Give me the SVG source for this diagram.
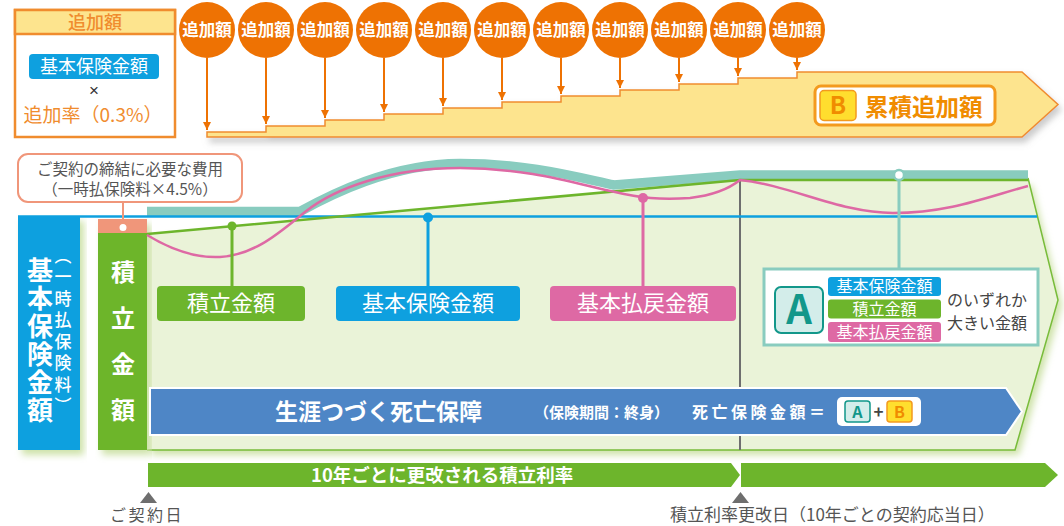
<svg xmlns="http://www.w3.org/2000/svg" width="1064" height="526" viewBox="0 0 1064 526">
<defs>
<style>
text{font-family:"Noto Sans CJK JP","Noto Sans",sans-serif}
.b{font-weight:700}
.w{fill:#fff}
.or{fill:#F08C2E}
.gy{fill:#555}
.circ{fill:#EE7203}
.ctx{fill:#fff;font-size:16.5px;font-weight:700;text-anchor:middle}
.arr{stroke:#EE7203;stroke-width:2;fill:none}
.lbl{font-size:22px;fill:#fff;text-anchor:middle}
.sm{font-size:16px;fill:#fff;text-anchor:middle}
</style>
<marker id="ah" viewBox="0 0 8 8" refX="8" refY="4" markerWidth="8" markerHeight="8" markerUnits="userSpaceOnUse" orient="auto">
<path d="M0,0 L8,4 L0,8 Z" fill="#EE7203"/>
</marker>
<filter id="sh" x="-5%" y="-5%" width="115%" height="125%">
<feDropShadow dx="4" dy="5" stdDeviation="3.5" flood-color="#C9DFA0" flood-opacity="0.9"/>
</filter>
<filter id="gs" x="-5%" y="-20%" width="110%" height="160%">
<feDropShadow dx="3" dy="5" stdDeviation="3" flood-color="#999" flood-opacity="0.5"/>
</filter>
</defs>
<rect width="1064" height="526" fill="#fff"/>

<!-- top left formula box -->
<g id="formula">
<rect x="15" y="10" width="160" height="127" fill="#fff" stroke="#F08C2E" stroke-width="2.5"/>
<rect x="15" y="10" width="160" height="24" fill="#FDE48E" stroke="#F08C2E" stroke-width="2.5"/>
<text x="95" y="29" font-size="18" class="or" text-anchor="middle" font-weight="500">追加額</text>
<rect x="29" y="54" width="130" height="25" rx="4" fill="#0EA0DF"/>
<text x="94" y="73" font-size="18" class="w" text-anchor="middle">基本保険金額</text>
<text x="94" y="96" font-size="17" fill="#333" text-anchor="middle" style="font-family:'Liberation Sans',sans-serif">×</text>
<text x="93" y="122" font-size="19" class="or" text-anchor="middle">追加率（0.3%）</text>
</g>

<!-- staircase -->
<g id="cumulative">
<path d="M207,137 V132 H266 V126 H325 V120 H384 V114 H443 V108 H502 V102 H561 V96 H620 V90 H679 V84 H738 V78 H797 V72 H1022 L1058,104.5 L1022,137 Z" fill="#FDE48E" stroke="#F08C2E" stroke-width="1.5" filter="url(#gs)"/>
<rect x="815" y="86" width="180" height="39" rx="6" fill="#fff" stroke="#F39A1E" stroke-width="3"/>
<rect x="820" y="90.5" width="36" height="30" rx="4" fill="#FFDE2E" stroke="#F39A1E" stroke-width="1.5"/>
<text x="838" y="114" font-size="24" class="b" fill="#F08C00" text-anchor="middle">B</text>
<text x="865" y="116" font-size="23.5" class="b" fill="#F08C00">累積追加額</text>
</g>

<!-- additional amount connectors -->
<g id="connectors-top">
<line class="arr" x1="207" y1="58" x2="207" y2="130" marker-end="url(#ah)"/>
<line class="arr" x1="266" y1="58" x2="266" y2="124" marker-end="url(#ah)"/>
<line class="arr" x1="325" y1="58" x2="325" y2="118" marker-end="url(#ah)"/>
<line class="arr" x1="384" y1="58" x2="384" y2="112" marker-end="url(#ah)"/>
<line class="arr" x1="443" y1="58" x2="443" y2="106" marker-end="url(#ah)"/>
<line class="arr" x1="502" y1="58" x2="502" y2="100" marker-end="url(#ah)"/>
<line class="arr" x1="561" y1="58" x2="561" y2="94" marker-end="url(#ah)"/>
<line class="arr" x1="620" y1="58" x2="620" y2="88" marker-end="url(#ah)"/>
<line class="arr" x1="679" y1="58" x2="679" y2="82" marker-end="url(#ah)"/>
<line class="arr" x1="738" y1="58" x2="738" y2="76" marker-end="url(#ah)"/>
<line class="arr" x1="797" y1="58" x2="797" y2="70" marker-end="url(#ah)"/>
</g>
<g id="c1"><circle class="circ" cx="207" cy="30" r="28"/><text class="ctx" x="207" y="36">追加額</text></g>
<g id="c2"><circle class="circ" cx="266" cy="30" r="28"/><text class="ctx" x="266" y="36">追加額</text></g>
<g id="c3"><circle class="circ" cx="325" cy="30" r="28"/><text class="ctx" x="325" y="36">追加額</text></g>
<g id="c4"><circle class="circ" cx="384" cy="30" r="28"/><text class="ctx" x="384" y="36">追加額</text></g>
<g id="c5"><circle class="circ" cx="443" cy="30" r="28"/><text class="ctx" x="443" y="36">追加額</text></g>
<g id="c6"><circle class="circ" cx="502" cy="30" r="28"/><text class="ctx" x="502" y="36">追加額</text></g>
<g id="c7"><circle class="circ" cx="561" cy="30" r="28"/><text class="ctx" x="561" y="36">追加額</text></g>
<g id="c8"><circle class="circ" cx="620" cy="30" r="28"/><text class="ctx" x="620" y="36">追加額</text></g>
<g id="c9"><circle class="circ" cx="679" cy="30" r="28"/><text class="ctx" x="679" y="36">追加額</text></g>
<g id="c10"><circle class="circ" cx="738" cy="30" r="28"/><text class="ctx" x="738" y="36">追加額</text></g>
<g id="c11"><circle class="circ" cx="797" cy="30" r="28"/><text class="ctx" x="797" y="36">追加額</text></g>

<!-- main area -->
<g id="main-area">
<path d="M147,234 L740,180 L1028,180 L1058,300 L1015,450 L147,450 Z" fill="#EAF3D8" filter="url(#sh)"/>
<path d="M1028,178 L1058,300 L1015,450 L147,450" fill="none" stroke="#78BC3A" stroke-width="1.5"/>
<line x1="740" y1="180" x2="740" y2="450" stroke="#6E6E6E" stroke-width="2"/>
</g>

<!-- left columns -->
<g id="col-blue">
<rect x="18" y="216" width="62" height="234" fill="#0EA0DF" filter="url(#sh)"/>
<text x="40" y="257" font-size="26" class="b w" style="writing-mode:vertical-rl;letter-spacing:2px">基本保険金額</text>
<text x="63" y="247" font-size="17" class="w" font-weight="500" style="writing-mode:vertical-rl;letter-spacing:4.5px">（一時払保険料）</text>
</g>
<g id="col-green">
<rect x="98" y="219" width="49" height="231" fill="#6DB52C" filter="url(#sh)"/>
<rect x="98" y="219" width="49" height="14" fill="#F0967A"/>
<text x="123" y="260" font-size="24" class="b w" style="writing-mode:vertical-rl;letter-spacing:22px">積立金額</text>
</g>

<!-- curves -->
<g id="curves">
<path d="M147,211.5 L300,211.5 C330,195 390,164 460,163.5 C530,163.5 580,178 614,185 L740,175 L1028,175" fill="none" stroke="#89CCBF" stroke-width="9.5"/>
<line x1="18" y1="216.5" x2="1037" y2="216.5" stroke="#0EA0DF" stroke-width="2.5"/>
<path d="M147,234 L740,180 L1028,180" fill="none" stroke="#6DB52C" stroke-width="2.5"/>
<path d="M147,235 C175,252 200,258 220,257 C255,255 280,232 305,212 C335,188 390,168 460,168 C530,168 580,185 615,192 C640,198 660,200 690,198 C715,195 730,188 740,180 C790,185 840,213 893,213 C950,213 990,196 1028,186" fill="none" stroke="#DE69A4" stroke-width="2.5"/>
</g>

<!-- callout -->
<g id="callout">
<rect x="18" y="154" width="224" height="48" rx="10" fill="#fff" stroke="#F0967A" stroke-width="2"/>
<text x="130" y="175" font-size="15.5" class="gy" text-anchor="middle">ご契約の締結に必要な費用</text>
<text x="130" y="195" font-size="15.5" class="gy" text-anchor="middle">（一時払保険料×4.5%）</text>
<line x1="123" y1="202" x2="123" y2="223" stroke="#F0967A" stroke-width="2"/>
<circle cx="123" cy="227.5" r="4.5" fill="#fff" stroke="#F0967A" stroke-width="2"/>
</g>

<!-- series labels -->
<g id="lbl-tsumitate">
<line x1="232" y1="226" x2="232" y2="286" stroke="#6DB52C" stroke-width="3"/>
<circle cx="232" cy="226" r="4.5" fill="#6DB52C"/>
<rect x="157" y="286" width="148" height="35" rx="4" fill="#6DB52C"/>
<text class="lbl" x="231" y="311">積立金額</text>
</g>
<g id="lbl-kihon">
<line x1="428" y1="217" x2="428" y2="286" stroke="#0EA0DF" stroke-width="3"/>
<circle cx="428" cy="217.5" r="5" fill="#0EA0DF"/>
<rect x="336" y="286" width="184" height="35" rx="4" fill="#0EA0DF"/>
<text class="lbl" x="428" y="311">基本保険金額</text>
</g>
<g id="lbl-haraimodoshi">
<line x1="643" y1="198" x2="643" y2="286" stroke="#DE69A4" stroke-width="3"/>
<circle cx="643" cy="198" r="5" fill="#DE69A4"/>
<rect x="550" y="286" width="186" height="35" rx="4" fill="#DE69A4"/>
<text class="lbl" x="643" y="311">基本払戻金額</text>
</g>

<!-- A box -->
<g id="box-a">
<line x1="899" y1="180" x2="899" y2="269" stroke="#89CCBF" stroke-width="3"/>
<circle cx="899" cy="175" r="5" fill="#fff" stroke="#89CCBF" stroke-width="2.5"/>
<rect x="764" y="269" width="274" height="76" fill="#fff" stroke="#89CCBF" stroke-width="3"/>
<rect x="775" y="287" width="48" height="46" rx="6" fill="#D3EDEA" stroke="#12978A" stroke-width="2"/>
<text x="799" y="324" font-size="40" class="b" fill="#12978A" text-anchor="middle">A</text>
<rect x="828" y="277" width="113" height="19" rx="3" fill="#0EA0DF"/>
<text class="sm" x="884.5" y="292">基本保険金額</text>
<rect x="828" y="299.5" width="113" height="19" rx="3" fill="#6DB52C"/>
<text class="sm" x="884.5" y="314.5">積立金額</text>
<rect x="828" y="322" width="113" height="20" rx="3" fill="#DE69A4"/>
<text class="sm" x="884.5" y="337.5">基本払戻金額</text>
<text x="947" y="306" font-size="16" fill="#444">のいずれか</text>
<text x="947" y="329" font-size="16" fill="#444">大きい金額</text>
</g>

<!-- death benefit band -->
<g id="death-band">
<path d="M150,388 L1006,388 L1022,411.5 L1006,435 L150,435 Z" fill="#4E86C6" stroke="#fff" stroke-width="2"/>
<text x="275" y="420" font-size="23" class="b w">生涯つづく死亡保障</text>
<text x="534" y="418" font-size="15" class="w" font-weight="700">（保険期間：終身）</text>
<text x="692" y="418" font-size="16" class="b w" style="letter-spacing:3.5px">死亡保険金額＝</text>
<rect x="837" y="397" width="84" height="29" rx="5" fill="#fff"/>
<rect x="845" y="401" width="25" height="21" rx="3" fill="#D3EDEA" stroke="#12978A" stroke-width="1.5"/>
<text x="857.5" y="418" font-size="16" class="b" fill="#12978A" text-anchor="middle">A</text>
<text x="878.5" y="418" font-size="17" class="b" fill="#444" text-anchor="middle">+</text>
<rect x="887" y="401" width="25" height="21" rx="3" fill="#FFDE2E" stroke="#F39A1E" stroke-width="1.5"/>
<text x="899.5" y="418" font-size="16" class="b" fill="#F08C00" text-anchor="middle">B</text>
</g>

<!-- timeline -->
<g id="timeline">
<path d="M148,463 L731,463 L740,475 L731,487 L148,487 Z" fill="#6DB52C"/>
<path d="M741,463 L1045,463 L1058,475 L1045,487 L741,487 Z" fill="#6DB52C"/>
<text x="311" y="482" font-size="18.5" class="b w">10年ごとに更改される積立利率</text>
<path d="M140,503 L157,503 L148.5,492 Z" fill="#6E6E6E"/>
<path d="M732,503 L749,503 L740.5,492 Z" fill="#6E6E6E"/>
<text x="110" y="521" font-size="16" class="gy" style="letter-spacing:2.5px">ご契約日</text>
<text x="670" y="521" font-size="17" class="gy">積立利率更改日（10年ごとの契約応当日）</text>
</g>
</svg>
